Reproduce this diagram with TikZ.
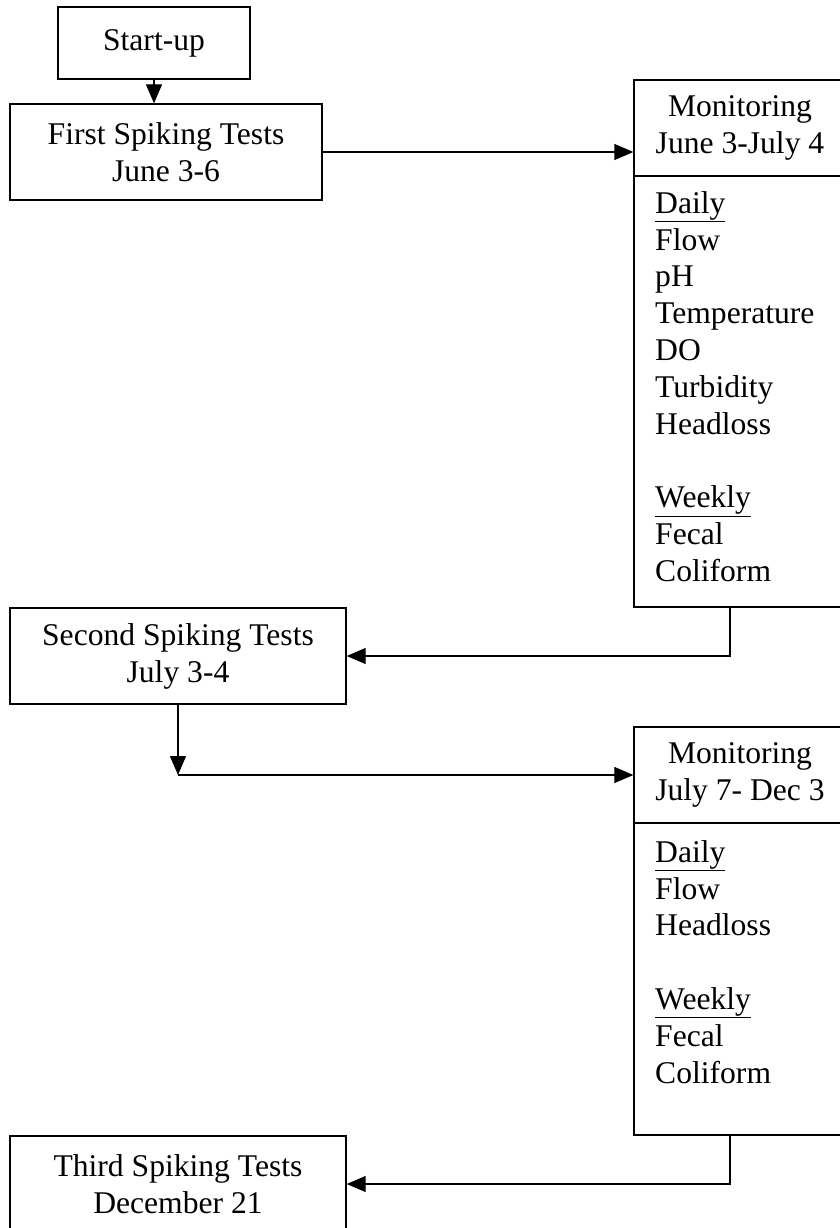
\documentclass[tikz,border=0pt]{standalone}
\usepackage{fontspec}
\setmainfont{Liberation Serif}
\usetikzlibrary{arrows.meta}
\tikzset{
  box/.style={draw, line width=1.3pt, inner sep=0pt, align=center,
    font=\fontsize{31.6}{37}\selectfont},
  bodytxt/.style={inner sep=0pt, align=left, anchor=north west,
    font=\fontsize{31.6}{36.8}\selectfont},
  conn/.style={line width=1.2pt},
  arr/.style={conn, -{Triangle[length=19pt,width=16pt]}}
}
\begin{document}
\begin{tikzpicture}[x=1pt,y=-1pt]
\useasboundingbox (0,0) rectangle (840,1228);
\clip (0,0) rectangle (840,1228);
% boxes
\node[box, minimum width=192pt, minimum height=72pt] (start) at (154,43) {Start-up};
\node[box, minimum width=312pt, minimum height=96pt] (first) at (166,152) {First Spiking Tests\\June 3-6};
\node[box, minimum width=212pt, minimum height=96pt] (mon1h) at (740,128) {Monitoring\\June 3-July 4};
\node[box, minimum width=212pt, minimum height=431pt] (mon1b) at (740,391.5) {};
\node[bodytxt] (mon1t) at (655,191) {\rule{0pt}{22pt}\underline{Daily}\\Flow\\pH\\Temperature\\DO\\Turbidity\\Headloss\\[36.8pt]\underline{Weekly}\\Fecal\\Coliform};
\node[box, minimum width=336pt, minimum height=96pt] (second) at (178,656) {Second Spiking Tests\\July 3-4};
\node[box, minimum width=212pt, minimum height=96pt] (mon2h) at (740,775) {Monitoring\\July 7- Dec 3};
\node[box, minimum width=212pt, minimum height=312pt] (mon2b) at (740,979) {};
\node[bodytxt] (mon2t) at (655,840) {\rule{0pt}{22pt}\underline{Daily}\\Flow\\Headloss\\[36.8pt]\underline{Weekly}\\Fecal\\Coliform};
\node[box, minimum width=336pt, minimum height=96pt] (third) at (178,1184) {Third Spiking Tests\\December 21};
% helper coordinates
\coordinate (j2) at (178,775);
\coordinate (d1) at (730,607);
\coordinate (d2) at (730,1135);
% connectors
\draw[arr] (start.south) -- (start.south |- first.north);
\draw[arr] (first.east) -- (first.east -| mon1h.west);
\draw[arr] (d1) |- (second.east);
\draw[arr] (j2 |- second.south) -- (j2);
\draw[arr] (j2) -- (mon2h.west);
\draw[arr] (d2) |- (third.east);
\end{tikzpicture}
\end{document}
